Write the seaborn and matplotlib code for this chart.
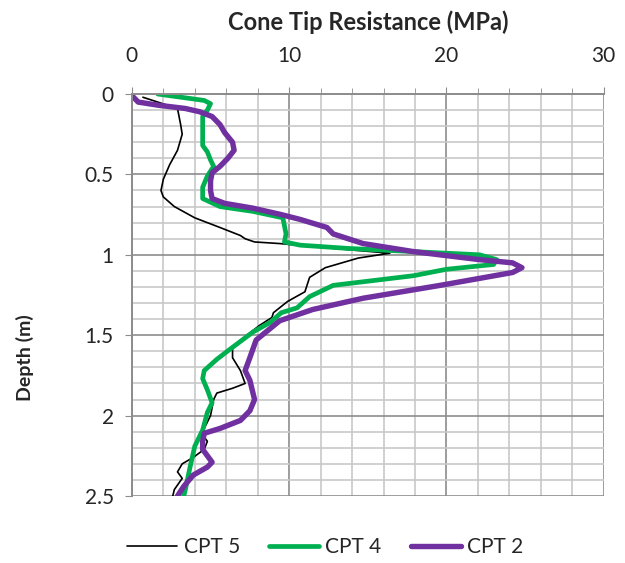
import numpy as np
import pandas as pd
import matplotlib
matplotlib.use("Agg")
import matplotlib.pyplot as plt
from matplotlib.ticker import MultipleLocator
import seaborn as sns

# Digitised cone tip resistance (MPa) vs depth (m)
cpt5_depth = [0.02, 0.09, 0.19, 0.25, 0.35, 0.44, 0.53, 0.60, 0.64, 0.70, 0.77, 0.83, 0.88, 0.90,
              0.92, 0.93, 0.94, 0.97, 0.99, 1.02, 1.08, 1.14, 1.23, 1.29, 1.36, 1.39, 1.44, 1.57,
              1.64, 1.72, 1.80, 1.83, 1.86, 1.90, 2.00, 2.08, 2.12, 2.16, 2.21, 2.26, 2.30, 2.35,
              2.39, 2.46, 2.50]
cpt5_qc = [0.7, 2.9, 3.1, 3.2, 2.9, 2.4, 2.0, 1.85, 2.0, 2.7, 4.0, 5.6, 6.9, 7.2,
           7.8, 9.4, 10.5, 14.0, 16.4, 14.4, 12.3, 11.3, 11.0, 9.9, 9.0, 8.9, 8.1, 6.4,
           6.4, 6.9, 7.2, 6.4, 5.4, 5.2, 5.0, 4.6, 4.5, 4.8, 4.6, 3.9, 3.2, 2.9,
           3.2, 2.7, 2.6]

cpt4_depth = [0.00, 0.04, 0.06, 0.10, 0.14, 0.23, 0.32, 0.36, 0.41, 0.45, 0.51, 0.58, 0.65, 0.70,
              0.73, 0.77, 0.87, 0.92, 0.94, 0.96, 0.98, 1.00, 1.03, 1.06, 1.09, 1.13, 1.19, 1.26,
              1.33, 1.36, 1.42, 1.48, 1.59, 1.65, 1.72, 1.77, 1.84, 1.92, 1.98, 2.09, 2.19, 2.32,
              2.46, 2.50]
cpt4_qc = [1.65, 4.6, 5.0, 4.8, 4.5, 4.5, 4.5, 4.8, 5.0, 5.2, 4.8, 4.5, 4.5, 5.6,
           7.7, 9.6, 9.8, 9.7, 10.7, 13.7, 17.9, 22.1, 23.2, 23.0, 20.0, 17.9, 12.8, 11.3,
           10.5, 9.5, 8.8, 7.7, 6.2, 5.4, 4.6, 4.5, 4.8, 5.1, 4.8, 4.5, 4.0, 3.7,
           3.4, 3.3]

cpt2_depth = [0.01, 0.05, 0.07, 0.09, 0.11, 0.14, 0.19, 0.24, 0.30, 0.35, 0.40, 0.45, 0.49, 0.54,
              0.60, 0.65, 0.68, 0.71, 0.75, 0.78, 0.83, 0.87, 0.93, 0.98, 1.03, 1.05, 1.08, 1.11,
              1.19, 1.27, 1.34, 1.41, 1.53, 1.64, 1.72, 1.78, 1.90, 1.97, 2.03, 2.08, 2.11, 2.16,
              2.21, 2.29, 2.32, 2.37, 2.44, 2.50]
cpt2_qc = [0.0, 0.4, 1.7, 3.4, 4.3, 5.1, 5.6, 5.9, 6.4, 6.5, 6.1, 5.6, 5.1, 5.0,
           5.0, 5.1, 5.9, 7.7, 9.5, 10.7, 12.4, 12.8, 14.7, 17.9, 22.1, 24.2, 24.8, 24.2,
           19.6, 14.7, 11.5, 9.4, 7.9, 7.5, 7.2, 7.5, 7.8, 7.5, 6.9, 5.6, 4.6, 4.5,
           4.5, 5.1, 4.8, 3.9, 3.3, 2.9]

series = [
    ("CPT 5", cpt5_depth, cpt5_qc, "#000000", 1.2),
    ("CPT 4", cpt4_depth, cpt4_qc, "#00B050", 3.4),
    ("CPT 2", cpt2_depth, cpt2_qc, "#7030A0", 3.9),
]

sns.set_style("white")
plt.rcParams["font.family"] = ["Lato", "DejaVu Sans"]

fig, ax = plt.subplots(figsize=(6.25, 5.63), dpi=100)
fig.subplots_adjust(left=0.211, right=0.966, top=0.833, bottom=0.119)

for name, depth, qc, color, lw in series:
    df = pd.DataFrame({"qc": qc, "depth": depth})
    sns.lineplot(data=df, x="qc", y="depth", sort=False, estimator=None,
                 color=color, linewidth=lw, label=name, ax=ax,
                 solid_joinstyle="round", solid_capstyle="round")

ax.set_xlim(0, 30)
ax.set_ylim(2.5, 0)
ax.xaxis.set_major_locator(MultipleLocator(10))
ax.xaxis.set_minor_locator(MultipleLocator(2))
ax.yaxis.set_major_locator(MultipleLocator(0.5))
ax.yaxis.set_minor_locator(MultipleLocator(0.1))
ax.set_yticks([0, 0.5, 1, 1.5, 2, 2.5])
ax.set_yticklabels(["0", "0.5", "1", "1.5", "2", "2.5"])
ax.xaxis.tick_top()
ax.xaxis.set_label_position("top")

ax.grid(which="major", color="#8c8c8c", linewidth=1.2)
ax.grid(which="minor", color="#c8c8c8", linewidth=1.2)
ax.set_axisbelow(True)
for side in ["top", "left"]:
    ax.spines[side].set_color("#8c8c8c")
    ax.spines[side].set_linewidth(1.4)
for side in ["right", "bottom"]:
    ax.spines[side].set_visible(False)

ax.tick_params(axis="x", which="major", top=True, bottom=False, length=5, color="#8c8c8c",
               labelsize=15, pad=15)
ax.tick_params(axis="x", which="minor", top=True, bottom=False, length=4, color="#8c8c8c")
ax.tick_params(axis="y", which="major", left=True, length=5, color="#8c8c8c",
               labelsize=15, pad=8)
ax.tick_params(axis="y", which="minor", left=False)

ax.set_xlabel("Cone Tip Resistance (MPa)", fontsize=17, fontweight="bold")
ax.xaxis.label.set_va("center")
ax.xaxis.set_label_coords(0.5, 1.179)
ax.set_ylabel("Depth (m)", fontsize=14, fontweight="bold")
ax.yaxis.label.set_va("center")
ax.yaxis.set_label_coords(-0.227, 0.343)

ax.legend(loc="center", bbox_to_anchor=(0.41, -0.128), ncol=3, frameon=False,
          fontsize=15, handlelength=2.4, handletextpad=0.3, columnspacing=1.4)

fig.savefig("out.png", dpi=100)
